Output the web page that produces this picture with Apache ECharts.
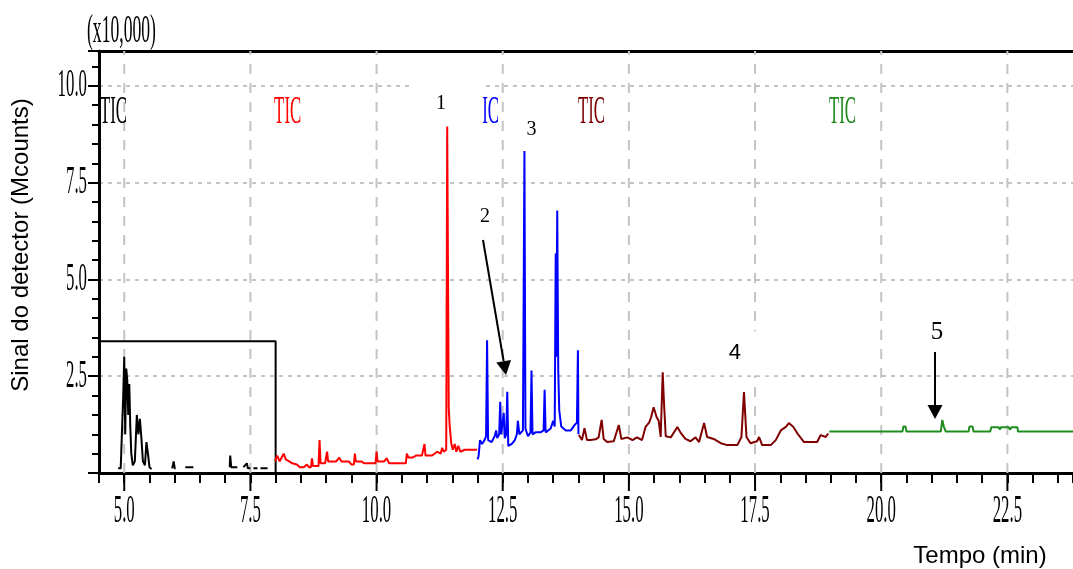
<!DOCTYPE html>
<html>
<head>
<meta charset="utf-8">
<script src="https://cdn.jsdelivr.net/npm/echarts/dist/echarts.min.js"></script>
<style>
  html, body { margin: 0; padding: 0; background: #fff; }
  #chart { width: 1073px; height: 569px; }
</style>
</head>
<body>
<div id="chart"></div>
<script>
  // tempo (min) / sinal (x10,000) for each TIC window
  var blackT = [4.88, 4.93, 4.96, 4.98, 5.00, 5.02, 5.04, 5.06, 5.08, 5.10, 5.12, 5.14, 5.17, 5.21, 5.25, 5.28, 5.31, 5.34, 5.37, 5.41, 5.44, 5.47, 5.50, 5.54, 5.58, 5.95, 5.98, 6.00, 6.02, 6.10, 6.21, 6.37, 6.45, 7.09, 7.10, 7.12, 7.24, 7.30, 7.36, 7.43, 7.45, 7.50, 7.53, 7.56, 7.64, 7.67, 7.70, 7.84, 7.90, 7.97];
  var blackV = [0.12, 0.12, 0.1, 2.0, 3.0, 1.0, 2.7, 2.4, 1.5, 2.3, 1.2, 0.5, 0.2, 0.3, 1.5, 1.0, 1.4, 0.9, 0.3, 0.2, 0.8, 0.5, 0.15, 0.1, null, 0.12, 0.3, 0.12, 0.12, null, 0.15, 0.15, null, 0.15, 0.45, 0.15, 0.15, null, 0.15, 0.25, 0.12, 0.12, null, 0.12, 0.12, null, 0.12, 0.12, null, 0.15];

  var redT = [7.99, 8.03, 8.08, 8.12, 8.16, 8.20, 8.27, 8.33, 8.42, 8.48, 8.56, 8.62, 8.66, 8.70, 8.72, 8.74, 8.85, 8.87, 8.89, 8.98, 9.02, 9.04, 9.20, 9.26, 9.30, 9.45, 9.50, 9.55, 9.57, 9.59, 9.70, 9.75, 9.98, 10.00, 10.02, 10.15, 10.20, 10.25, 10.58, 10.60, 10.63, 10.72, 10.78, 10.90, 10.95, 10.97, 11.10, 11.20, 11.27, 11.30, 11.33, 11.38, 11.40, 11.43, 11.45, 11.48, 11.51, 11.55, 11.58, 11.62, 11.66, 11.75, 11.85, 11.99];
  var redV = [0.3, 0.45, 0.3, 0.4, 0.5, 0.35, 0.3, 0.25, 0.22, 0.15, 0.15, 0.22, 0.15, 0.15, 0.38, 0.18, 0.18, 0.85, 0.25, 0.25, 0.55, 0.3, 0.3, 0.4, 0.3, 0.3, 0.22, 0.22, 0.5, 0.3, 0.3, 0.25, 0.25, 0.55, 0.3, 0.3, 0.38, 0.25, 0.25, 0.5, 0.4, 0.4, 0.45, 0.45, 0.75, 0.45, 0.45, 0.55, 0.5, 0.65, 0.55, 0.6, 8.95, 1.67, 1.2, 0.77, 0.6, 0.75, 0.55, 0.7, 0.55, 0.6, 0.6, 0.6];

  var blueT = [12.00, 12.02, 12.05, 12.09, 12.14, 12.17, 12.19, 12.21, 12.28, 12.34, 12.37, 12.39, 12.43, 12.45, 12.47, 12.50, 12.52, 12.54, 12.57, 12.59, 12.61, 12.68, 12.74, 12.78, 12.80, 12.83, 12.90, 12.93, 12.95, 13.00, 13.05, 13.07, 13.09, 13.15, 13.25, 13.31, 13.33, 13.35, 13.45, 13.50, 13.53, 13.55, 13.56, 13.58, 13.60, 13.62, 13.66, 13.75, 13.85, 13.93, 13.97, 13.99, 14.00];
  var blueV = [0.35, 0.42, 0.85, 0.75, 0.85, 0.95, 3.43, 0.85, 0.8, 0.95, 1.1, 0.9, 1.0, 1.84, 1.0, 0.95, 1.55, 0.9, 1.0, 2.1, 0.7, 0.75, 0.85, 1.0, 1.35, 1.0, 1.1, 8.32, 1.15, 0.95, 1.05, 2.65, 1.0, 1.05, 1.05, 1.1, 2.15, 1.05, 1.15, 1.35, 1.2, 5.67, 3.0, 6.78, 2.65, 1.62, 1.2, 1.1, 1.1, 1.25, 1.3, 3.17, 1.0];

  var brownT = [14.01, 14.07, 14.12, 14.17, 14.24, 14.34, 14.40, 14.46, 14.50, 14.57, 14.70, 14.80, 14.85, 14.97, 15.07, 15.16, 15.26, 15.33, 15.40, 15.44, 15.49, 15.55, 15.59, 15.63, 15.67, 15.69, 15.73, 15.83, 15.96, 16.02, 16.12, 16.22, 16.32, 16.39, 16.49, 16.55, 16.68, 16.82, 16.95, 17.15, 17.23, 17.28, 17.33, 17.41, 17.54, 17.58, 17.64, 17.81, 17.91, 18.01, 18.11, 18.17, 18.26, 18.34, 18.47, 18.73, 18.80, 18.90, 18.95];
  var brownV = [0.98, 0.85, 1.16, 0.85, 0.85, 0.87, 0.92, 1.37, 0.88, 0.8, 0.82, 1.24, 0.88, 0.92, 0.85, 0.92, 0.85, 1.19, 1.3, 1.44, 1.7, 1.44, 1.35, 0.93, 2.6, 1.96, 0.95, 0.92, 1.19, 1.05, 0.88, 0.82, 0.92, 0.8, 1.29, 0.93, 0.88, 0.77, 0.72, 0.72, 0.93, 2.09, 0.93, 0.77, 0.82, 0.93, 0.72, 0.72, 0.85, 1.1, 1.19, 1.29, 1.19, 1.02, 0.8, 0.8, 0.98, 0.93, 1.02];

  var greenT = [18.97, 20.42, 20.44, 20.48, 20.50, 21.18, 21.21, 21.24, 21.28, 21.73, 21.75, 21.81, 21.83, 22.16, 22.18, 22.33, 22.35, 22.37, 22.53, 22.55, 22.58, 22.70, 22.71, 23.80];
  var greenV = [1.07, 1.07, 1.2, 1.2, 1.07, 1.07, 1.37, 1.2, 1.07, 1.07, 1.2, 1.2, 1.07, 1.07, 1.18, 1.18, 1.12, 1.18, 1.18, 1.12, 1.18, 1.18, 1.07, 1.07];

  // black window frame
  var boxT = [4.5, 8.0, 8.0];
  var boxV = [3.4, 3.4, 0];

  var xTicks = [5.0, 7.5, 10.0, 12.5, 15.0, 17.5, 20.0, 22.5];
  var yTicks = [2.5, 5.0, 7.5, 10.0];

  // "TIC" tag at the start of each window
  var ticStart = [4.52, 7.97, 11.89, 13.99, 18.965];

  var peakNames = ['1', '2', '3', '4', '5'];
  var peakT = [11.277, 12.149, 13.07, 17.10, 21.105];
  var peakV = [9.556, 6.61, 8.86, 3.07, 3.64];

  // arrows: tail (t, v) -> tip (t, v)
  var arrowFrom = [[12.109, 6.018], [21.066, 3.125]];
  var arrowTo = [[12.565, 2.531], [21.066, 1.395]];

  var X_MIN = 4.5, X_MAX = 23.8, Y_MAX = 10.9, TIC_Y = 9.324;
  var colors = ['#000000', '#ff0000', '#0000ff', '#800000', '#1e8c1e'];
  var tallFont = '40px "Liberation Serif", "Times New Roman", serif';
  var squeeze = 0.42;

  function pairs(t, v) {
    return t.map(function (x, i) { return [x, v[i]]; });
  }

  function trace(t, v, color) {
    return {
      type: 'line',
      data: pairs(t, v),
      showSymbol: false,
      symbol: 'none',
      lineStyle: { color: color, width: 2 },
      itemStyle: { color: color },
      silent: true,
      z: 3
    };
  }

  // vertical dashed grid, long ticks and labels of the time axis
  function renderXTick(params, api) {
    var v = api.value(0);
    var p0 = api.coord([v, 0]);
    var p1 = api.coord([v, Y_MAX]);
    return {
      type: 'group',
      children: [
        { type: 'line', shape: { x1: p0[0], y1: p0[1], x2: p1[0], y2: p1[1] },
          style: { stroke: '#c4c4c4', lineWidth: 2, lineDash: [10, 9] } },
        { type: 'line', shape: { x1: p0[0], y1: p0[1], x2: p0[0], y2: p0[1] + 18 },
          style: { stroke: '#000', lineWidth: 2 } },
        { type: 'text', x: p0[0], y: p0[1] + 38, scaleX: squeeze,
          style: { text: v.toFixed(1), font: tallFont, fill: '#000', align: 'center', verticalAlign: 'middle' } }
      ]
    };
  }

  function renderYLabel(params, api) {
    var p = api.coord([X_MIN, api.value(1)]);
    return {
      type: 'text', x: p[0] - 12, y: p[1], scaleX: squeeze,
      style: { text: api.value(1).toFixed(1), font: tallFont, fill: '#000', align: 'right', verticalAlign: 'middle' }
    };
  }

  function renderTic(params, api) {
    var p = api.coord([api.value(0), TIC_Y]);
    return {
      type: 'text', x: p[0], y: p[1], scaleX: squeeze,
      style: { text: 'TIC', font: tallFont, fill: colors[params.dataIndex], align: 'left', verticalAlign: 'middle' }
    };
  }

  var serif = '"Liberation Serif", "Times New Roman", serif';
  var peakLook = [
    { font: '20px ' + serif, pad: [12, 36, 13, 22] },
    { font: '20px ' + serif, pad: [3, 3, 3, 3] },
    { font: '20px ' + serif, pad: [3, 3, 3, 3] },
    { font: '22px "Liberation Sans", Arial, sans-serif', pad: [12, 36, 10, 32] },
    { font: '25px ' + serif, pad: [3, 3, 3, 3] }
  ];

  function renderPeak(params, api) {
    var p = api.coord([api.value(0), api.value(1)]);
    var s = peakLook[params.dataIndex];
    var pad = s.pad;
    return {
      type: 'text',
      x: p[0] + (pad[1] - pad[3]) / 2,
      y: p[1] + (pad[2] - pad[0]) / 2,
      style: {
        text: peakNames[params.dataIndex], font: s.font, fill: '#000',
        backgroundColor: '#fff', padding: pad, align: 'center', verticalAlign: 'middle'
      }
    };
  }

  function renderArrow(params, api) {
    var a = api.coord([api.value(0), api.value(1)]);
    var b = api.coord([api.value(2), api.value(3)]);
    var dx = b[0] - a[0], dy = b[1] - a[1];
    var len = Math.sqrt(dx * dx + dy * dy);
    var ux = dx / len, uy = dy / len;
    var head = 14, half = 7.5;
    var bx = b[0] - ux * head, by = b[1] - uy * head;
    return {
      type: 'group',
      children: [
        { type: 'line', shape: { x1: a[0], y1: a[1], x2: bx, y2: by },
          style: { stroke: '#000', lineWidth: 2 } },
        { type: 'polygon', shape: { points: [[b[0], b[1]], [bx - uy * half, by + ux * half], [bx + uy * half, by - ux * half]] },
          style: { fill: '#000' } }
      ]
    };
  }

  var chart = echarts.init(document.getElementById('chart'));

  var option = {
    animation: false,
    backgroundColor: '#fff',
    grid: { left: 99, right: 0, top: 51, bottom: 96, containLabel: false, outerBoundsMode: 'none' },
    xAxis: [
      {
        type: 'value', position: 'bottom', min: X_MIN, max: X_MAX, interval: 0.5,
        axisLine: { show: true, onZero: false, lineStyle: { color: '#000', width: 3 } },
        axisTick: { show: true, length: 10, lineStyle: { color: '#000', width: 2 } },
        axisLabel: { show: false },
        splitLine: { show: false }
      },
      {
        type: 'value', position: 'top', min: X_MIN, max: X_MAX,
        axisLine: { show: true, onZero: false, lineStyle: { color: '#000', width: 3 } },
        axisTick: { show: false },
        axisLabel: { show: false },
        splitLine: { show: false }
      }
    ],
    yAxis: [
      {
        type: 'value', position: 'left', min: 0, max: Y_MAX, interval: 2.5,
        axisLine: { show: true, onZero: false, lineStyle: { color: '#000', width: 3 } },
        axisTick: { show: true, length: 11, lineStyle: { color: '#000', width: 2 } },
        axisLabel: { show: false },
        splitLine: { show: true, lineStyle: { color: '#c4c4c4', width: 2, type: [4, 5] } }
      },
      {
        type: 'value', position: 'left', offset: 0, min: 0, max: Y_MAX, interval: 0.5,
        axisLine: { show: false },
        axisTick: { show: true, length: 7, lineStyle: { color: '#000', width: 2 } },
        axisLabel: { show: false },
        splitLine: { show: false }
      }
    ],
    graphic: [
      { type: 'text', x: 87, y: 31, scaleX: 0.44,
        style: { text: '(x10,000)', font: tallFont, fill: '#000', align: 'left', verticalAlign: 'middle' } },
      { type: 'text', x: 21, y: 245, rotation: Math.PI / 2,
        style: { text: 'Sinal do detector (Mcounts)', font: '24px "Liberation Sans", Arial, sans-serif', fill: '#000', align: 'center', verticalAlign: 'middle' } },
      { type: 'text', x: 980, y: 556,
        style: { text: 'Tempo (min)', font: '24px "Liberation Sans", Arial, sans-serif', fill: '#000', align: 'center', verticalAlign: 'middle' } }
    ],
    series: [
      { type: 'custom', renderItem: renderXTick, data: xTicks.map(function (v) { return [v, 0]; }), silent: true, z: 1 },
      { type: 'custom', renderItem: renderYLabel, data: yTicks.map(function (v) { return [X_MIN, v]; }), silent: true, z: 1 },
      trace(boxT, boxV, '#000'),
      trace(blackT, blackV, colors[0]),
      trace(redT, redV, colors[1]),
      trace(blueT, blueV, colors[2]),
      trace(brownT, brownV, colors[3]),
      trace(greenT, greenV, colors[4]),
      { type: 'custom', renderItem: renderTic, data: ticStart.map(function (t) { return [t, TIC_Y]; }), silent: true, z: 4 },
      { type: 'custom', renderItem: renderPeak, data: pairs(peakT, peakV), silent: true, z: 5 },
      { type: 'custom', renderItem: renderArrow,
        data: arrowFrom.map(function (f, i) { return [f[0], f[1], arrowTo[i][0], arrowTo[i][1]]; }),
        encode: { x: [0, 2], y: [1, 3] }, silent: true, z: 6 }
    ]
  };

  chart.setOption(option);
</script>
</body>
</html>
